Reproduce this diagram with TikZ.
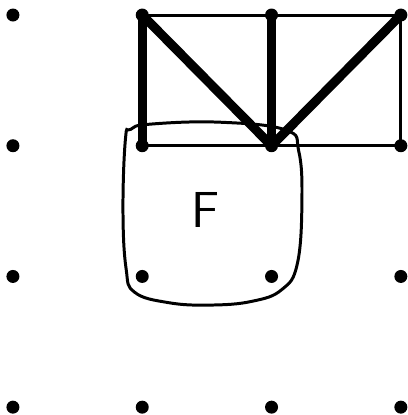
\documentclass[tikz,border=0pt]{standalone}
\usepackage{tikz}

\begin{document}
\begin{tikzpicture}[x=1.293cm,y=1.307cm]
\useasboundingbox (-0.10,-0.06) rectangle (3.055,3.115);
\tikzset{gdot/.style={circle,fill=black,inner sep=0pt,minimum size=1.3mm},
  bar/.style={line width=2.6pt,line cap=round},
  edge/.style={line width=0.85pt}}
% grid of dots
\foreach \i in {0,...,3} {
  \foreach \j in {0,...,3} {
    \node[gdot] (p\i\j) at (\i,\j) {};
  }
}
% face F
\draw[edge] plot[smooth cycle,tension=0.7] coordinates {(0.870,2.050) (0.851,1.507) (0.875,1.060)
  (0.940,0.880) (1.200,0.800) (1.524,0.781) (1.850,0.810) (2.080,0.900) (2.200,1.100)
  (2.235,1.584) (2.210,1.960) (2.110,2.120) (1.601,2.180) (1.060,2.165) (0.910,2.125)};
\node (lblF) at (1.49,1.51) {\Large\sffamily F};
% rectangle
\draw[edge] (p13.center) -- (p33.center) -- (p32.center) -- (p12.center);
% thick edges
\draw[bar] (p13.center) -- (p12.center);
\draw[bar] (p13.center) -- (p22.center);
\draw[bar] (p23.center) -- (p22.center);
\draw[bar] (p22.center) -- (p33.center);
\end{tikzpicture}
\end{document}
